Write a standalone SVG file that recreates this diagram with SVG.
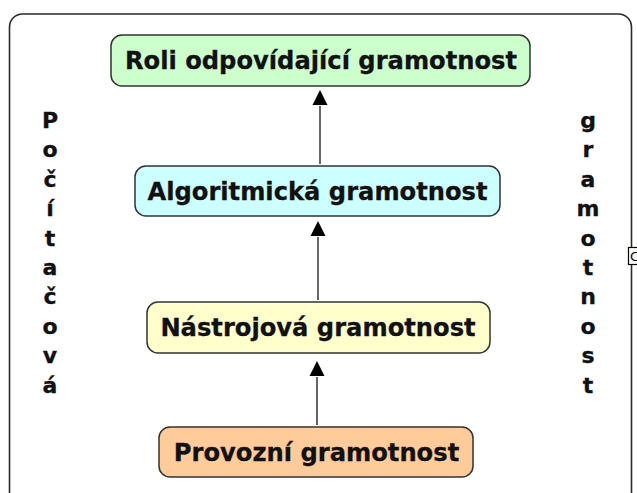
<svg xmlns="http://www.w3.org/2000/svg" width="637" height="493" viewBox="0 0 637 493">
<defs>
<style>
.frame{fill:#fff;stroke:#2a2a2a;stroke-width:1.6}
.node rect{stroke:#333;stroke-width:1.5}
.lbl{font-family:"DejaVu Sans",Verdana,sans-serif;font-weight:bold;font-size:24.2px;fill:#111;text-anchor:middle;stroke:#111;stroke-width:0.3}
.side{font-family:"DejaVu Sans",Verdana,sans-serif;font-weight:bold;font-size:22px;fill:#111;text-anchor:middle;stroke:#111;stroke-width:0.3}
.conn line{stroke:#333;stroke-width:1.5}
</style>
</defs>
<rect width="637" height="493" fill="#fff"/>
<rect class="frame" x="9.5" y="14" width="622" height="500" rx="13"/>
<g id="handle">
<rect x="628.5" y="247.5" width="12" height="17" fill="#fff" stroke="#000" stroke-width="1.2"/>
<text x="630" y="261" font-family="DejaVu Sans,sans-serif" font-size="13" fill="#000">C</text>
</g>
<g class="conn" id="connectors">
<line x1="320" y1="164" x2="320" y2="106"/>
<path d="M320,90 L312.5,105 L327.5,105 z" fill="#000"/>
<line x1="318" y1="300" x2="318" y2="237"/>
<path d="M318,221 L310.5,236 L325.5,236 z" fill="#000"/>
<line x1="317" y1="425" x2="317" y2="377"/>
<path d="M317,361 L309.5,376 L324.5,376 z" fill="#000"/>
</g>
<g class="node" id="n-roli">
<rect x="111" y="35" width="419" height="51" rx="11" fill="#ccffcc"/>
<text class="lbl" x="321" y="69">Roli odpovídající gramotnost</text>
</g>
<g class="node" id="n-algo">
<rect x="135" y="166" width="365" height="50" rx="11" fill="#ccffff"/>
<text class="lbl" x="317.5" y="199.5">Algoritmická gramotnost</text>
</g>
<g class="node" id="n-nastroj">
<rect x="147" y="302" width="343" height="51" rx="11" fill="#ffffcc"/>
<text class="lbl" x="318" y="335.5">Nástrojová gramotnost</text>
</g>
<g class="node" id="n-provoz">
<rect x="159" y="427" width="314" height="50" rx="11" fill="#ffcc99"/>
<text class="lbl" x="316.5" y="460.5">Provozní gramotnost</text>
</g>
<g id="side-left">
<text class="side" x="50" y="128">P</text>
<text class="side" x="50" y="157.4">o</text>
<text class="side" x="50" y="186.8">č</text>
<text class="side" x="50" y="216.2">í</text>
<text class="side" x="50" y="245.6">t</text>
<text class="side" x="50" y="275">a</text>
<text class="side" x="50" y="304.4">č</text>
<text class="side" x="50" y="333.8">o</text>
<text class="side" x="50" y="363.2">v</text>
<text class="side" x="50" y="392.6">á</text>
</g>
<g id="side-right">
<text class="side" x="588" y="128">g</text>
<text class="side" x="588" y="157.4">r</text>
<text class="side" x="588" y="186.8">a</text>
<text class="side" x="588" y="216.2">m</text>
<text class="side" x="588" y="245.6">o</text>
<text class="side" x="588" y="275">t</text>
<text class="side" x="588" y="304.4">n</text>
<text class="side" x="588" y="333.8">o</text>
<text class="side" x="588" y="363.2">s</text>
<text class="side" x="588" y="392.6">t</text>
</g>
</svg>
